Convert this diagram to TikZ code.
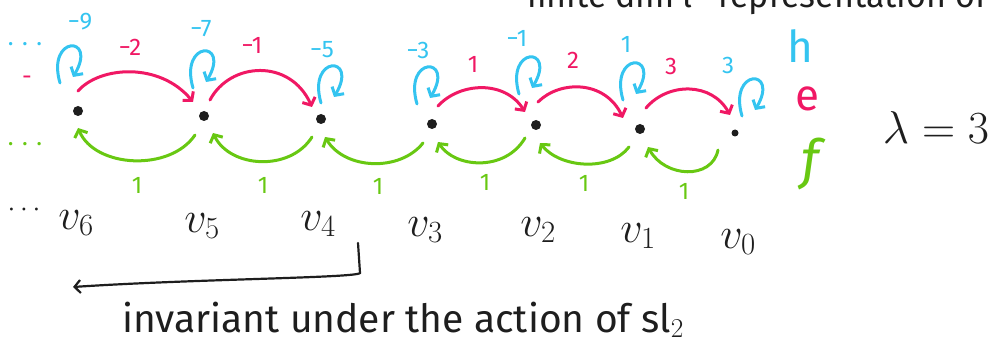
\RequirePackage{fix-cm}
\documentclass[tikz,border=0pt]{standalone}
\usepackage{fontspec}
\setmainfont{Fira Sans}
\usetikzlibrary{arrows.meta,calc}

\definecolor{hblue}{RGB}{52,196,240}
\definecolor{ered}{RGB}{240,24,100}
\definecolor{fgreen}{RGB}{104,200,18}
\definecolor{ink}{RGB}{30,30,30}

\tikzset{
  stroke/.style={line width=3pt, line cap=round, line join=round},
  barb/.style={-{Straight Barb[length=6pt,width=14pt]}},
  earc/.style={stroke, barb, draw=ered},
  farc/.style={stroke, barb, draw=fgreen},
  dot/.style={circle, fill=ink, inner sep=0pt, minimum size=10pt},
  lbl/.style={inner sep=0pt, font=\fontsize{24}{24}\selectfont},
  hlbl/.style={lbl, text=hblue},
  elbl/.style={lbl, text=ered},
  flbl/.style={lbl, text=fgreen},
  vlbl/.style={inner sep=0pt, text=ink, font=\fontsize{44}{44}\selectfont},
  hcycle/.pic={
    \draw[stroke, barb, draw=hblue]
      (-10,18) .. controls (-24,-30) and (28,-30) .. (3,12);
  },
}

\begin{document}
\begin{tikzpicture}[x=1pt,y=-1pt]
\useasboundingbox (0,0) rectangle (990,350);
\clip (0,0) rectangle (990,350);

% heading, running off the top edge
\node[anchor=base west, inner sep=0pt, text=ink, font=\fontsize{34}{34}\selectfont] (head1) at (527,8) {finite dim'l};
\node[anchor=base west, inner sep=0pt, text=ink, font=\fontsize{34}{34}\selectfont] (head2) at (718,8) {representation of};

% weight vectors
\node[dot] (d6) at (78,111) {};
\node[dot] (d5) at (204,116) {};
\node[dot] (d4) at (321,119) {};
\node[dot] (d3) at (432,124) {};
\node[dot] (d2) at (536,125) {};
\node[dot] (d1) at (640,129) {};
\node[dot, minimum size=7pt] (d0) at (735,133) {};

% action of h: self loops
\pic at ($(d6)+(-8,-46)$) {hcycle};
\pic at ($(d5)+(-1,-46)$) {hcycle};
\pic at ($(d4)+(10,-34)$) {hcycle};
\pic at ($(d3)+(-5,-38)$) {hcycle};
\pic at ($(d2)+(-7,-49)$) {hcycle};
\pic at ($(d1)+(-7,-47)$) {hcycle};
\pic at ($(d0)+(17,-35)$) {hcycle};

\node[hlbl] (h6) at (80,22) {−9};
\node[hlbl] (h5) at (201,29) {−7};
\node[hlbl] (h4) at (322,50) {−5};
\node[hlbl] (h3) at (418,50) {−3};
\node[hlbl] (h2) at (517,38) {−1};
\node[hlbl] (h1) at (626,44) {1};
\node[hlbl] (h0) at (728,65) {3};
\node[hlbl] (hdots) at (25,44) {. . .};

% action of e
\draw[earc] ($(d6)+(0,-20)$) .. controls +(22,-25) and +(-33,-40) .. ($(d5)+(-11,-14)$);
\draw[earc] ($(d5)+(6,-16)$) .. controls +(20,-38) and +(-22,-49) .. ($(d4)+(-9,-12)$);
\draw[earc] ($(d3)+(6,-18)$) .. controls +(22,-24) and +(-20,-32) .. ($(d2)+(-11,-13)$);
\draw[earc] ($(d2)+(2,-23)$) .. controls +(22,-22) and +(-18,-38) .. ($(d1)+(-17,-11)$);
\draw[earc] ($(d1)+(6,-21)$) .. controls +(22,-26) and +(-18,-33) .. ($(d0)+(-5,-18)$);

\node[elbl] (e65) at (130,47) {−2};
\node[elbl] (e54) at (252,45) {−1};
\node[elbl] (e32) at (473,64) {1};
\node[elbl] (e21) at (573,60) {2};
\node[elbl] (e10) at (671,66) {3};
\node[elbl] (edots) at (27,80) {-};

% action of f
\draw[farc] ($(d5)+(-9,19)$) .. controls (170,172) and (95,168) .. ($(d6)+(0,17)$);
\draw[farc] ($(d4)+(-9,18)$) .. controls (290,172) and (230,168) .. ($(d5)+(9,17)$);
\draw[farc] ($(d3)+(-9,19)$) .. controls (400,172) and (345,170) .. ($(d4)+(4,18)$);
\draw[farc] ($(d2)+(-11,13)$) .. controls (505,172) and (455,168) .. ($(d3)+(6,18)$);
\draw[farc] ($(d1)+(-11,18)$) .. controls (610,172) and (560,168) .. ($(d2)+(4,18)$);
\draw[farc] ($(d0)+(-17,17)$) .. controls (712,180) and (665,178) .. ($(d1)+(8,18)$);

\node[flbl] (f56) at (137,185) {1};
\node[flbl] (f45) at (263,185) {1};
\node[flbl] (f34) at (378,186) {1};
\node[flbl] (f23) at (485,182) {1};
\node[flbl] (f12) at (584,183) {1};
\node[flbl] (f01) at (684,191) {1};
\node[flbl] (fdots) at (25,144) {. . .};

% legend
\node[inner sep=0pt, text=hblue, font=\fontsize{44}{44}\selectfont] (hname) at (800,46) {h};
\node[inner sep=0pt, text=ered, font=\fontsize{44}{44}\selectfont] (ename) at (807,99) {e};
\node[inner sep=0pt, text=fgreen, font=\fontsize{54}{54}\itshape\selectfont] (fname) at (810,164) {f};
\node[inner sep=0pt, text=ink, font=\fontsize{46}{46}\selectfont] (lam) at (936,128) {$\lambda = 3$};

% basis vectors
\node[inner sep=0pt, text=ink, font=\fontsize{28}{28}\selectfont] (vdots) at (24,210) {$\cdots$};
\node[vlbl] (v6) at (76,223) {$v_6$};
\node[vlbl] (v5) at (202,226) {$v_5$};
\node[vlbl] (v4) at (318,224) {$v_4$};
\node[vlbl] (v3) at (425,230) {$v_3$};
\node[vlbl] (v2) at (538,230) {$v_2$};
\node[vlbl] (v1) at (638,236) {$v_1$};
\node[vlbl] (v0) at (738,242) {$v_0$};

% invariant part
\coordinate (bstart) at ($(v4)+(40,19)$);
\coordinate (bend) at (73,287);
\draw[line width=2.2pt, line cap=round, -{Straight Barb[length=6pt,width=13pt]}, draw=ink]
  (bstart) -- ++(2,30) .. controls +(-3,5) and +(120,-8) .. (bend);
\node[inner sep=0pt, text=ink, font=\fontsize{39}{39}\selectfont, anchor=base] (inv) at (403,332) {invariant under the action of sl$_2$};
\end{tikzpicture}
\end{document}
